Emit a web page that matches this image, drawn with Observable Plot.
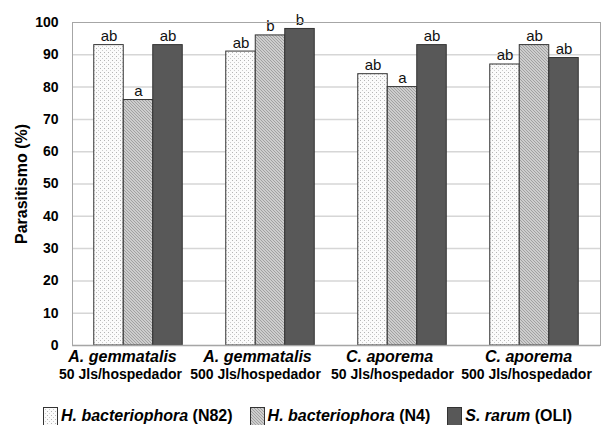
<!DOCTYPE html>
<html>
<head>
<meta charset="utf-8">
<script src="https://cdn.jsdelivr.net/npm/d3@7"></script>
<script src="https://cdn.jsdelivr.net/npm/@observablehq/plot@0.6"></script>
<style>
  html, body { margin: 0; background: #fff; font-family: "Liberation Sans", Arial, sans-serif; overflow: hidden; }
  #legend { display: flex; align-items: center; height: 30px; width: 601px; box-sizing: border-box; padding-left: 43px; font-size: 16px; font-weight: bold; color: #000; position: relative; top: 6px; white-space: nowrap; }
  #legend .item { display: flex; align-items: center; margin-right: 17px; flex-shrink: 0; white-space: nowrap; }
  #legend svg { margin-right: 3px; flex-shrink: 0; }
</style>
</head>
<body>
<svg width="0" height="0" style="position:absolute">
  <defs>
    <pattern id="dots" width="4" height="4" patternUnits="userSpaceOnUse">
      <rect width="4" height="4" fill="#fbfbfb"></rect>
      <rect x="0" y="0" width="1" height="1" fill="#b4b4b4"></rect>
      <rect x="2" y="2" width="1" height="1" fill="#cccccc"></rect>
    </pattern>
    <pattern id="hatch" width="3" height="3" patternUnits="userSpaceOnUse">
      <rect width="3" height="3" fill="#cdcdcd"></rect>
      <path d="M0,0 L3,3 M-1,2 L1,4 M2,-1 L4,1" stroke="#959595" stroke-width="0.8"></path>
    </pattern>
  </defs>
</svg>
<div id="chart"></div>
<div id="legend"></div>
<script>
const species = ["A. gemmatalis", "A. gemmatalis", "C. aporema", "C. aporema"];
const doses = ["50 Jls/hospedador", "500 Jls/hospedador", "50 Jls/hospedador", "500 Jls/hospedador"];
const seriesSpecies = ["H. bacteriophora", "H. bacteriophora", "S. rarum"];
const seriesStrain = ["(N82)", "(N4)", "(OLI)"];
const valuesN82 = [93, 91, 84, 87];
const valuesN4 = [76, 96, 80, 93];
const valuesOLI = [93, 98, 93, 89];
const lettersN82 = ["ab", "ab", "ab", "ab"];
const lettersN4 = ["a", "b", "a", "ab"];
const lettersOLI = ["ab", "b", "ab", "ab"];
const yTicks = [0, 10, 20, 30, 40, 50, 60, 70, 80, 90, 100];

const categories = species.map((s, i) => s + " | " + doses[i]);
const seriesValues = [valuesN82, valuesN4, valuesOLI];
const seriesLetters = [lettersN82, lettersN4, lettersOLI];
const fills = ["url(#dots)", "url(#hatch)", "#585858"];

// styling: horizontal nudges of the category labels (as in the original figure)
const speciesShift = [-16, -13, -13, -6];
const doseShift = [-18, -15, -10, -8];

const W = 601, ML = 72, MR = 1;
const band = (W - ML - MR) / categories.length;
const barW = 29.5;

const barMarks = [];
seriesValues.forEach((vals, s) => {
  const data = categories.map((c, i) => ({cat: c, value: vals[i], letter: seriesLetters[s][i]}));
  const left = band / 2 - 1.5 * barW + s * barW;
  barMarks.push(Plot.barY(data, {
    x: "cat", y: "value", fill: fills[s], stroke: "#333", strokeWidth: 1,
    insetLeft: left, insetRight: band - left - barW
  }));
  barMarks.push(Plot.text(data, {
    x: "cat", y: "value", text: "letter", dx: (s - 1) * barW, dy: -4,
    lineAnchor: "bottom", fontSize: 15, fill: "#111"
  }));
});

const labelMarks = [];
categories.forEach((c, i) => {
  labelMarks.push(Plot.text([c], {x: d => d, text: () => species[i], frameAnchor: "bottom", dy: 16, dx: speciesShift[i],
    fontSize: 16, fontWeight: "bold", fontStyle: "italic", fill: "#000"}));
  labelMarks.push(Plot.text([c], {x: d => d, text: () => doses[i], frameAnchor: "bottom", dy: 33, dx: doseShift[i],
    fontSize: 14, fontWeight: "bold", fill: "#000"}));
});

const chart = Plot.plot({
  width: W, height: 395,
  marginLeft: ML, marginRight: MR, marginTop: 22, marginBottom: 50,
  style: {fontFamily: "'Liberation Sans', Arial, sans-serif", background: "#fff"},
  x: {domain: categories, padding: 0, axis: null},
  y: {domain: [0, 100], axis: null},
  marks: [
    Plot.gridY(yTicks.filter(t => t > 0 && t < 100), {stroke: "#d6d6d6", strokeOpacity: 1, strokeWidth: 1.5}),
    ...barMarks,
    Plot.ruleY([0], {stroke: "#a0a0a0", strokeWidth: 1.5}),
    Plot.frame({stroke: "#a6a6a6", strokeWidth: 1}),
    Plot.axisY(yTicks, {tickSize: 0, tickPadding: 14, fontSize: 14, fontWeight: "bold", fill: "#000", label: null}),
    Plot.axisY({ticks: [], tickSize: 0, fontSize: 16, fontWeight: "bold", fill: "#000",
      label: "Parasitismo (%)", labelAnchor: "center", labelOffset: 57, labelArrow: "none"}),
    ...labelMarks
  ]
});
document.getElementById("chart").appendChild(chart);

const legend = document.getElementById("legend");
seriesSpecies.forEach((sp, s) => {
  const item = document.createElement("div");
  item.className = "item";
  item.innerHTML = `<svg width="15" height="19"><rect x="0.5" y="0.5" width="14" height="18" fill="${fills[s]}" stroke="#333"></rect></svg><span><i>${sp}</i> ${seriesStrain[s]}</span>`;
  legend.appendChild(item);
});
</script>
</body>
</html>
